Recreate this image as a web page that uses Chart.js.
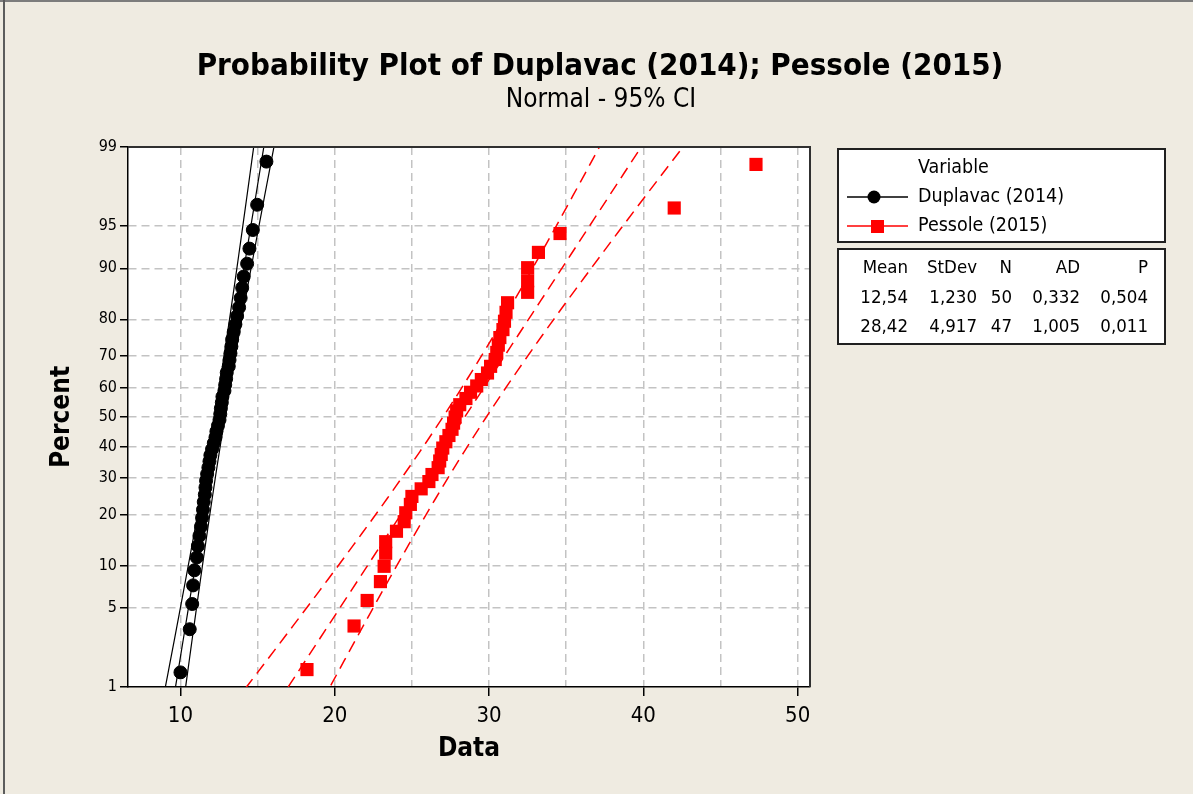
<!DOCTYPE html>
<html>
<head>
<meta charset="utf-8">
<script src="https://cdn.jsdelivr.net/npm/chart.js@4.4.1/dist/chart.umd.min.js"></script>
<style>
  html, body { margin: 0; padding: 0; background: #efebe1; }
  canvas { display: block; }
</style>
</head>
<body>
<canvas id="myChart" width="1193" height="794"></canvas>
<script>
const duplavac = [10.0, 10.6, 10.76, 10.82, 10.9, 11.06, 11.13, 11.23, 11.33, 11.4,
	11.46, 11.51, 11.58, 11.62, 11.66, 11.73, 11.81, 11.88, 11.94, 12.05,
	12.16, 12.27, 12.33, 12.43, 12.53, 12.58, 12.62, 12.68, 12.72, 12.85,
	12.9, 12.96, 13.0, 13.13, 13.18, 13.24, 13.3, 13.35, 13.45, 13.56,
	13.67, 13.8, 13.9, 14.0, 14.1, 14.32, 14.47, 14.69, 14.97, 15.57];
const pessole = [18.2, 21.25, 22.1, 22.96, 23.2, 23.3, 23.3, 24.0, 24.5, 24.6,
	24.9, 25.0, 25.6, 26.1, 26.3, 26.7, 26.8, 26.9, 27.0, 27.2,
	27.4, 27.6, 27.7, 27.8, 27.9, 28.1, 28.5, 28.8, 29.2, 29.5,
	29.9, 30.1, 30.4, 30.5, 30.6, 30.7, 30.9, 31.0, 31.1, 31.2,
	32.5, 32.5, 32.5, 33.2, 34.6, 42.0, 47.3];

const seriesNames = ['Duplavac (2014)', 'Pessole (2015)'];
const fitMean = [12.54, 28.42];
const fitStDev = [1.230, 4.917];
const fitN = [50, 47];
const fitAD = [0.332, 1.005];
const fitP = [0.504, 0.011];

const percentTicks = [1, 5, 10, 20, 30, 40, 50, 60, 70, 80, 90, 95, 99];
const dataTicks = [10, 15, 20, 25, 30, 35, 40, 45, 50];
const statsHeader = ['Mean', 'StDev', 'N', 'AD', 'P'];

const FONT = '"DejaVu Sans Condensed", "DejaVu Sans", sans-serif';

// inverse of the standard normal cdf (Acklam)
function probit(p) {
	const a = [-3.969683028665376e+01, 2.209460984245205e+02, -2.759285104469687e+02, 1.383577518672690e+02, -3.066479806614716e+01, 2.506628277459239e+00];
	const b = [-5.447609879822406e+01, 1.615858368580409e+02, -1.556989798598866e+02, 6.680131188771972e+01, -1.328068155288572e+01];
	const c = [-7.784894002430293e-03, -3.223964580411365e-01, -2.400758277161838e+00, -2.549732539343734e+00, 4.374664141464968e+00, 2.938163982698783e+00];
	const d = [7.784695709041462e-03, 3.224671290700398e-01, 2.445134137142996e+00, 3.754408661907416e+00];
	if (p < 0.02425) {
		let q = Math.sqrt(-2 * Math.log(p));
		return (((((c[0]*q+c[1])*q+c[2])*q+c[3])*q+c[4])*q+c[5]) / ((((d[0]*q+d[1])*q+d[2])*q+d[3])*q+1);
	}
	if (p > 1 - 0.02425) {
		let q = Math.sqrt(-2 * Math.log(1 - p));
		return -(((((c[0]*q+c[1])*q+c[2])*q+c[3])*q+c[4])*q+c[5]) / ((((d[0]*q+d[1])*q+d[2])*q+d[3])*q+1);
	}
	let q = p - 0.5, r = q * q;
	return (((((a[0]*r+a[1])*r+a[2])*r+a[3])*r+a[4])*r+a[5])*q / (((((b[0]*r+b[1])*r+b[2])*r+b[3])*r+b[4])*r+1);
}

// median-rank plotting positions
function probPoints(values) {
	let n = values.length;
	return values.map((v, i) => ({x: v, y: probit((i + 1 - 0.3) / (n + 0.4))}));
}

// fitted line and 95% band from mean / stdev / N
function fitCurve(k, side) {
	let pts = [];
	for (let z = -2.6; z <= 2.61; z += 0.1) {
		let half = 1.96 * fitStDev[k] * Math.sqrt((1 + z * z / 2) / fitN[k]);
		pts.push({x: fitMean[k] + z * fitStDev[k] + side * half, y: z});
	}
	return pts;
}

function comma(v, d) {
	return v.toFixed(d).replace('.', ',');
}

const zMin = probit(0.01), zMax = probit(0.99);

const framePlugin = {
	id: 'frame',
	beforeDraw(chart) {
		let ctx = chart.ctx, a = chart.chartArea;
		ctx.save();
		ctx.fillStyle = '#efebe1';
		ctx.fillRect(0, 0, chart.width, chart.height);
		ctx.fillStyle = '#7c7c7c';
		ctx.fillRect(0, 0, chart.width, 2);
		ctx.fillStyle = '#5c5c5c';
		ctx.fillRect(3, 0, 2, chart.height);
		ctx.fillStyle = '#ffffff';
		ctx.fillRect(a.left, a.top, a.right - a.left, a.bottom - a.top);
		ctx.restore();
	},
	afterDraw(chart) {
		let ctx = chart.ctx, a = chart.chartArea;
		ctx.save();
		ctx.strokeStyle = '#303030';
		ctx.lineWidth = 2;
		ctx.beginPath();
		ctx.moveTo(a.left, a.top);
		ctx.lineTo(a.right, a.top);
		ctx.lineTo(a.right, a.bottom);
		ctx.stroke();

		ctx.fillStyle = '#000';
		ctx.textAlign = 'center';
		ctx.textBaseline = 'middle';
		ctx.font = 'bold 31px ' + FONT;
		ctx.fillText('Probability Plot of Duplavac (2014); Pessole (2015)', 600, 67);
		ctx.font = '26px ' + FONT;
		ctx.fillText('Normal - 95% CI', 601, 100);

		// legend box
		ctx.fillStyle = '#fff';
		ctx.fillRect(838, 149, 327, 93);
		ctx.fillRect(838, 249, 327, 95);
		ctx.strokeStyle = '#202020';
		ctx.lineWidth = 2;
		ctx.strokeRect(838, 149, 327, 93);
		ctx.strokeRect(838, 249, 327, 95);

		ctx.font = '19.5px ' + FONT;
		ctx.textAlign = 'left';
		ctx.fillStyle = '#000';
		ctx.fillText('Variable', 918, 168);
		ctx.fillText(seriesNames[0], 918, 197);
		ctx.fillText(seriesNames[1], 918, 226);

		ctx.lineWidth = 1.5;
		ctx.strokeStyle = '#000';
		ctx.beginPath(); ctx.moveTo(847, 197); ctx.lineTo(908, 197); ctx.stroke();
		ctx.beginPath(); ctx.arc(874, 197, 6.5, 0, Math.PI * 2); ctx.fillStyle = '#000'; ctx.fill();
		ctx.strokeStyle = '#ff0000';
		ctx.beginPath(); ctx.moveTo(847, 226); ctx.lineTo(908, 226); ctx.stroke();
		ctx.fillStyle = '#ff0000';
		ctx.fillRect(871, 220, 13, 13);

		// stats table
		let cols = [908, 977, 1012, 1080, 1148];
		let rows = [268, 298, 327];
		ctx.font = '18.5px ' + FONT;
		ctx.fillStyle = '#000';
		ctx.textAlign = 'right';
		statsHeader.forEach((h, j) => ctx.fillText(h, cols[j], rows[0]));
		for (let k = 0; k < 2; k++) {
			let cells = [comma(fitMean[k], 2), comma(fitStDev[k], 3), String(fitN[k]), comma(fitAD[k], 3), comma(fitP[k], 3)];
			cells.forEach((t, j) => ctx.fillText(t, cols[j], rows[k + 1]));
		}
		ctx.restore();
	}
};

const datasets = [
	{
		label: seriesNames[0],
		data: probPoints(duplavac),
		backgroundColor: '#000',
		borderColor: '#000',
		pointStyle: 'circle',
		pointRadius: 6.5,
		borderWidth: 1
	},
	{
		label: seriesNames[1],
		data: probPoints(pessole),
		backgroundColor: '#ff0000',
		borderColor: '#ff0000',
		pointStyle: 'rect',
		pointRadius: 9.3,
		borderWidth: 0
	}
];
[0, -1, 1].forEach(side => {
	datasets.push({
		data: fitCurve(0, side), showLine: true, pointRadius: 0,
		borderColor: '#000', borderWidth: 1.2, tension: 0
	});
});
[0, -1, 1].forEach(side => {
	datasets.push({
		data: fitCurve(1, side), showLine: true, pointRadius: 0,
		borderColor: '#ff0000', borderWidth: 1.5, borderDash: [12, 7], tension: 0
	});
});

const gridGray = '#c3c3c3';

let ctx = document.getElementById('myChart').getContext('2d');
let myChart = new Chart(ctx, {
	type: 'scatter',
	data: {datasets: datasets},
	plugins: [framePlugin],
	options: {
		responsive: false,
		animation: false,
		events: [],
		layout: {padding: {top: 147, right: 383, bottom: 0, left: 0}},
		plugins: {legend: {display: false}, tooltip: {enabled: false}},
		scales: {
			x: {
				type: 'linear',
				min: 6.6,
				max: 50.8,
				afterBuildTicks: s => { s.ticks = dataTicks.map(v => ({value: v})); },
				afterFit: s => { s.height = 107; },
				ticks: {
					autoSkip: false, maxRotation: 0,
					color: '#000',
					font: {family: FONT, size: 22},
					padding: 7,
					callback: v => (v % 10 === 0 ? v : '')
				},
				grid: {
					color: gridGray, lineWidth: 1.5,
					tickLength: 9, tickWidth: 1.5,
					tickColor: c => (c.tick && c.tick.value % 10 === 0 ? '#000' : 'rgba(0,0,0,0)'),
					tickBorderDash: []
				},
				border: {display: true, color: '#000', width: 1.5, dash: [8, 5]},
				title: {
					display: true, text: 'Data', color: '#000',
					font: {family: FONT, size: 26, weight: 'bold', lineHeight: 1.2},
					padding: {top: 0, bottom: 29.4}
				}
			},
			y: {
				type: 'linear',
				min: zMin,
				max: zMax,
				afterBuildTicks: s => { s.ticks = percentTicks.map(p => ({value: probit(p / 100)})); },
				afterFit: s => { s.width = 128; },
				ticks: {
					autoSkip: false,
					color: '#000',
					font: {family: FONT, size: 16},
					padding: 3,
					callback: (v, i) => percentTicks[i]
				},
				grid: {
					color: c => (c.index === 0 || c.index === percentTicks.length - 1 ? 'rgba(0,0,0,0)' : gridGray),
					lineWidth: 1.5,
					tickLength: 8, tickWidth: 1.5,
					tickColor: '#000',
					tickBorderDash: []
				},
				border: {display: true, color: '#000', width: 1.5, dash: [8, 5]},
				title: {
					display: true, text: 'Percent', color: '#000',
					font: {family: FONT, size: 26, weight: 'bold', lineHeight: 1.2},
					padding: {top: 46.4, bottom: 0}
				}
			}
		}
	}
});
</script>
</body>
</html>
